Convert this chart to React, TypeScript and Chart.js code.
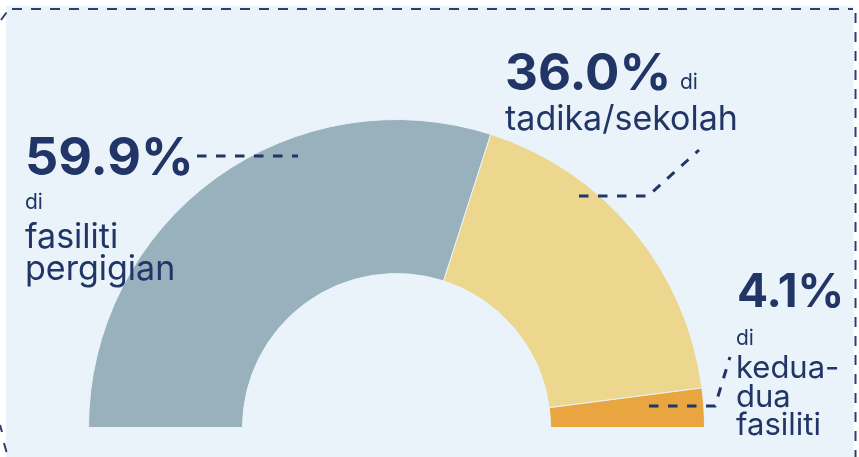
import React, { useEffect, useRef } from "react";
import { Chart, registerables } from "chart.js";

Chart.register(...registerables);

const categories = ["di fasiliti pergigian", "di tadika/sekolah", "di kedua-dua fasiliti"];
const shares = [59.9, 36.0, 4.1];
const sliceColors = ["#99B0BD", "#EDD78F", "#E8A540"];
const valueLabels = ["59.9%", "36.0%", "4.1%"];

const NAVY = "#213567";
const BG = "#EAF3F9";
const FONT = "Inter, 'Noto Sans', sans-serif";

const decorPlugin = {
  id: "decor",
  beforeDraw(chart: any) {
    const ctx = chart.ctx as CanvasRenderingContext2D;
    ctx.save();
    ctx.fillStyle = "#FFFFFF";
    ctx.fillRect(0, 0, chart.width, chart.height);
    ctx.fillStyle = BG;
    ctx.fillRect(6, 6, 847.5, chart.height - 6);
    // dashed frame
    ctx.strokeStyle = "#2C3F6E";
    ctx.lineWidth = 2;
    ctx.setLineDash([10, 9]);
    ctx.beginPath();
    ctx.moveTo(12, 9);
    ctx.lineTo(853, 9);
    ctx.stroke();
    ctx.beginPath();
    ctx.moveTo(855.5, 13);
    ctx.lineTo(855.5, chart.height);
    ctx.stroke();
    ctx.setLineDash([]);
    ctx.beginPath();
    ctx.moveTo(1, 20);
    ctx.lineTo(6.5, 12.5);
    ctx.moveTo(0, 425);
    ctx.lineTo(2, 432);
    ctx.moveTo(4, 443);
    ctx.lineTo(6.5, 452);
    ctx.stroke();
    ctx.restore();
  },
  afterDraw(chart: any) {
    const ctx = chart.ctx as CanvasRenderingContext2D;
    ctx.save();
    // leader lines
    ctx.strokeStyle = NAVY;
    ctx.lineWidth = 3;
    ctx.setLineDash([9.5, 9.5]);
    const paths: number[][][] = [
      [[197, 156], [298, 156]],
      [[579, 196], [648, 196], [699, 150]],
      [[649, 406], [715, 406], [730, 357]],
    ];
    for (const p of paths) {
      ctx.beginPath();
      ctx.moveTo(p[0][0], p[0][1]);
      for (let i = 1; i < p.length; i++) ctx.lineTo(p[i][0], p[i][1]);
      ctx.stroke();
    }
    ctx.setLineDash([]);
    ctx.fillStyle = NAVY;
    ctx.textBaseline = "alphabetic";
    ctx.textAlign = "left";
    const txt = (s: string, x: number, y: number, size: number, weight: number) => {
      ctx.font = `${weight} ${size}px ${FONT}`;
      ctx.fillText(s, x, y);
    };
    // 59.9%
    txt(valueLabels[0], 25, 175, 52, 700);
    txt("di", 25, 209, 21, 400);
    txt("fasiliti", 25, 248, 34, 400);
    txt("pergigian", 25, 280, 34, 400);
    // 36.0%
    txt(valueLabels[1], 505, 90, 51, 700);
    txt("di", 680, 89, 21, 400);
    txt("tadika/sekolah", 505, 130, 34, 400);
    // 4.1%
    txt(valueLabels[2], 737, 307, 46, 700);
    txt("di", 736, 345, 21, 400);
    txt("kedua-", 736, 378, 31, 400);
    txt("dua", 736, 407, 31, 400);
    txt("fasiliti", 736, 435, 31, 400);
    ctx.restore();
  },
};

export default function App() {
  const ref = useRef<HTMLCanvasElement | null>(null);
  useEffect(() => {
    if (!ref.current) return;
    const chart = new Chart(ref.current, {
      type: "doughnut",
      data: {
        labels: categories,
        datasets: [
          {
            data: shares,
            backgroundColor: sliceColors,
            borderColor: BG,
            borderWidth: 1,
            hoverOffset: 0,
          },
        ],
      },
      options: {
        responsive: false,
        animation: false,
        rotation: -90,
        circumference: 180,
        cutout: "50%",
        layout: { padding: { left: 88, top: 119, right: 154, bottom: 29 } },
        plugins: {
          legend: { display: false },
          tooltip: { enabled: false },
          title: { display: false },
        },
      },
      plugins: [decorPlugin],
    });
    return () => chart.destroy();
  }, []);
  return (
    <div style={{ position: "fixed", left: 0, top: 0, width: 859, height: 457 }}>
      <canvas ref={ref} width={859} height={457} style={{ display: "block" }} />
    </div>
  );
}
